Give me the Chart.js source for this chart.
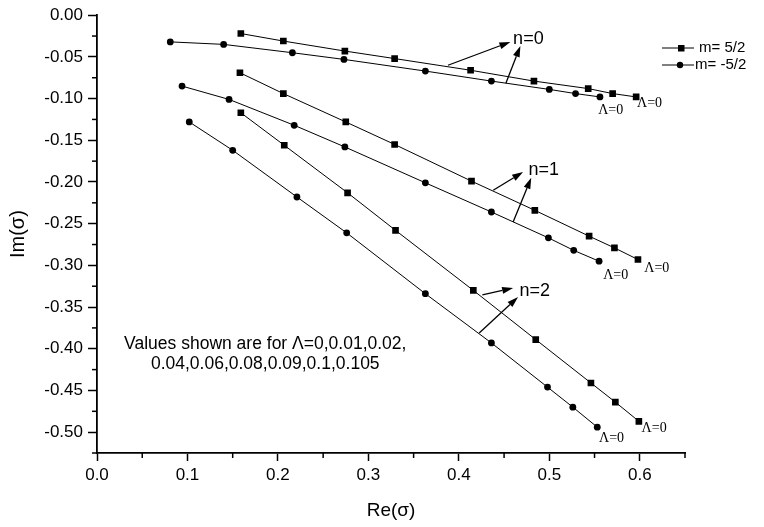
<!DOCTYPE html>
<html lang="en">
<head>
<meta charset="UTF-8">
<title>Im vs Re</title>
<script src="https://cdn.jsdelivr.net/npm/chart.js"></script>
<style>
  body { margin: 0; background: #fff; }
  canvas { display: block; }
</style>
</head>
<body>
<canvas id="myChart" width="764" height="527"></canvas>
<script>
// values, Λ goes 0.105 ... 0 from left to right
const n0SqRe = [0.159, 0.206, 0.274, 0.329, 0.413, 0.483, 0.543, 0.570, 0.596];
const n0SqIm = [-0.022, -0.031, -0.043, -0.052, -0.066, -0.079, -0.088, -0.094, -0.098];
const n0CiRe = [0.081, 0.140, 0.216, 0.273, 0.363, 0.436, 0.500, 0.529, 0.556];
const n0CiIm = [-0.032, -0.035, -0.045, -0.053, -0.067, -0.079, -0.089, -0.094, -0.098];

const n1SqRe = [0.158, 0.206, 0.275, 0.329, 0.414, 0.484, 0.544, 0.572, 0.598];
const n1SqIm = [-0.069, -0.094, -0.128, -0.155, -0.199, -0.234, -0.265, -0.279, -0.293];
const n1CiRe = [0.094, 0.146, 0.218, 0.274, 0.363, 0.436, 0.499, 0.527, 0.555];
const n1CiIm = [-0.085, -0.101, -0.132, -0.158, -0.201, -0.236, -0.267, -0.282, -0.295];

const n2SqRe = [0.159, 0.207, 0.277, 0.330, 0.416, 0.485, 0.546, 0.573, 0.599];
const n2SqIm = [-0.117, -0.156, -0.213, -0.258, -0.330, -0.389, -0.441, -0.464, -0.487];
const n2CiRe = [0.102, 0.150, 0.221, 0.276, 0.363, 0.436, 0.498, 0.526, 0.553];
const n2CiIm = [-0.128, -0.162, -0.218, -0.261, -0.334, -0.393, -0.446, -0.470, -0.494];

const xTicks = [0, 0.1, 0.2, 0.3, 0.4, 0.5, 0.6];
const xMinor = [0.05, 0.15, 0.25, 0.35, 0.45, 0.55, 0.65];
const yTicks = [0, -0.05, -0.10, -0.15, -0.20, -0.25, -0.30, -0.35, -0.40, -0.45, -0.50];
const yMinor = [-0.025, -0.075, -0.125, -0.175, -0.225, -0.275, -0.325, -0.375, -0.425, -0.475, -0.525];

const legendLabels = ['m= 5/2', 'm= -5/2'];
const noteLines = ['Values shown are for \u039B=0,0.01,0.02,', '0.04,0.06,0.08,0.09,0.1,0.105'];

// n labels and their arrows, in data units
const nLabels = [
  { text: 'n=0', x: 0.460, y: -0.028, arrows: [[0.388, -0.060, 0.457, -0.032], [0.452, -0.0815, 0.468, -0.037]] },
  { text: 'n=1', x: 0.477, y: -0.186, arrows: [[0.438, -0.210, 0.471, -0.188], [0.460, -0.248, 0.480, -0.195]] },
  { text: 'n=2', x: 0.467, y: -0.331, arrows: [[0.426, -0.3355, 0.460, -0.327], [0.4225, -0.381, 0.4655, -0.338]] }
];
const lambdaZero = [
  [0.554, -0.114], [0.597, -0.1055],
  [0.5595, -0.3115], [0.605, -0.303],
  [0.555, -0.507], [0.602, -0.495]
];

const FONT = 'Liberation Sans, Arial, sans-serif';

function pts(xs, ys) {
  return xs.map((x, i) => ({ x: x, y: ys[i] }));
}

function serie(xs, ys, style) {
  return {
    data: pts(xs, ys),
    showLine: true,
    borderColor: '#000',
    borderWidth: 1,
    backgroundColor: '#000',
    pointStyle: style,
    pointRadius: style == 'rect' ? 4.7 : 3.4,
    pointBorderWidth: 0,
    pointBackgroundColor: '#000'
  };
}

function arrow(ctx, x1, y1, x2, y2) {
  const a = Math.atan2(y2 - y1, x2 - x1);
  const len = 11, half = 3.5;
  const bx = x2 - len * Math.cos(a), by = y2 - len * Math.sin(a);
  ctx.beginPath();
  ctx.moveTo(x1, y1);
  ctx.lineTo(bx, by);
  ctx.stroke();
  ctx.beginPath();
  ctx.moveTo(x2, y2);
  ctx.lineTo(bx + half * Math.sin(a), by - half * Math.cos(a));
  ctx.lineTo(bx - half * Math.sin(a), by + half * Math.cos(a));
  ctx.closePath();
  ctx.fill();
}

const extras = {
  id: 'extras',
  afterDraw(chart) {
    const ctx = chart.ctx;
    const xs = chart.scales.x, ys = chart.scales.y;
    const area = chart.chartArea;
    ctx.save();
    ctx.strokeStyle = '#000';
    ctx.fillStyle = '#000';

    // minor ticks
    ctx.lineWidth = 1.5;
    xMinor.forEach(v => {
      const px = xs.getPixelForValue(v);
      ctx.beginPath();
      ctx.moveTo(px, area.bottom);
      ctx.lineTo(px, area.bottom + 5);
      ctx.stroke();
    });
    yMinor.forEach(v => {
      const py = ys.getPixelForValue(v);
      ctx.beginPath();
      ctx.moveTo(area.left, py);
      ctx.lineTo(area.left - 5, py);
      ctx.stroke();
    });

    // arrows + n labels
    ctx.lineWidth = 1.3;
    ctx.font = '18px ' + FONT;
    ctx.textAlign = 'left';
    ctx.textBaseline = 'middle';
    nLabels.forEach(l => {
      l.arrows.forEach(a => {
        arrow(ctx, xs.getPixelForValue(a[0]), ys.getPixelForValue(a[1]),
                   xs.getPixelForValue(a[2]), ys.getPixelForValue(a[3]));
      });
      ctx.fillText(l.text, xs.getPixelForValue(l.x), ys.getPixelForValue(l.y));
    });

    // Λ=0 marks
    ctx.font = '14px Liberation Serif, Times New Roman, serif';
    lambdaZero.forEach(p => {
      ctx.fillText('\u039B=0', xs.getPixelForValue(p[0]), ys.getPixelForValue(p[1]));
    });

    // note
    ctx.font = '17.5px ' + FONT;
    ctx.textAlign = 'center';
    ctx.fillText(noteLines[0], xs.getPixelForValue(0.186), ys.getPixelForValue(-0.394));
    ctx.fillText(noteLines[1], xs.getPixelForValue(0.186), ys.getPixelForValue(-0.419));

    // legend
    ctx.textAlign = 'left';
    ctx.font = '15px ' + FONT;
    ctx.lineWidth = 1;
    const rows = [48, 65];
    ['rect', 'circle'].forEach((st, i) => {
      const y = rows[i];
      ctx.beginPath();
      ctx.moveTo(662, y);
      ctx.lineTo(694, y);
      ctx.stroke();
      if (st == 'rect') ctx.fillRect(678, y - 3, 6.5, 6.5);
      else { ctx.beginPath(); ctx.arc(680, y, 3.2, 0, Math.PI * 2); ctx.fill(); }
      ctx.fillText(legendLabels[i], i == 0 ? 699 : 695, y);
    });
    ctx.restore();
  }
};

new Chart(document.getElementById('myChart'), {
  type: 'scatter',
  data: {
    datasets: [
      serie(n0SqRe, n0SqIm, 'rect'),
      serie(n0CiRe, n0CiIm, 'circle'),
      serie(n1SqRe, n1SqIm, 'rect'),
      serie(n1CiRe, n1CiIm, 'circle'),
      serie(n2SqRe, n2SqIm, 'rect'),
      serie(n2CiRe, n2CiIm, 'circle')
    ]
  },
  options: {
    responsive: false,
    animation: false,
    layout: { padding: { left: 0, top: 15, right: 79, bottom: 0 } },
    plugins: { legend: { display: false }, tooltip: { enabled: false } },
    scales: {
      x: {
        type: 'linear',
        min: 0, max: 0.65,
        afterBuildTicks: s => { s.ticks = xTicks.map(v => ({ value: v })); },
        afterFit: s => { s.height = 74; },
        ticks: {
          color: '#000', font: { family: FONT, size: 17 }, padding: 4,
          autoSkip: false, maxRotation: 0,
          callback: v => v.toFixed(1)
        },
        grid: { drawOnChartArea: false, tickLength: 8, color: '#000', tickWidth: 1.5 },
        border: { color: '#000', width: 1.8 },
        title: { display: true, text: 'Re(\u03C3)', color: '#000', font: { family: FONT, size: 19 }, padding: { top: 0, bottom: 5 } }
      },
      y: {
        type: 'linear',
        min: -0.525, max: 0,
        afterBuildTicks: s => { s.ticks = yTicks.map(v => ({ value: v })); },
        afterFit: s => { s.width = 97; },
        ticks: {
          color: '#000', font: { family: FONT, size: 17 }, padding: 5,
          autoSkip: false,
          callback: v => v.toFixed(2)
        },
        grid: { drawOnChartArea: false, tickLength: 9, color: '#000', tickWidth: 1.5 },
        border: { color: '#000', width: 1.8 },
        title: { display: true, text: 'Im(\u03C3)', color: '#000', font: { family: FONT, size: 20 }, padding: { top: 6, bottom: 0 } }
      }
    }
  },
  plugins: [extras]
});
</script>
</body>
</html>
